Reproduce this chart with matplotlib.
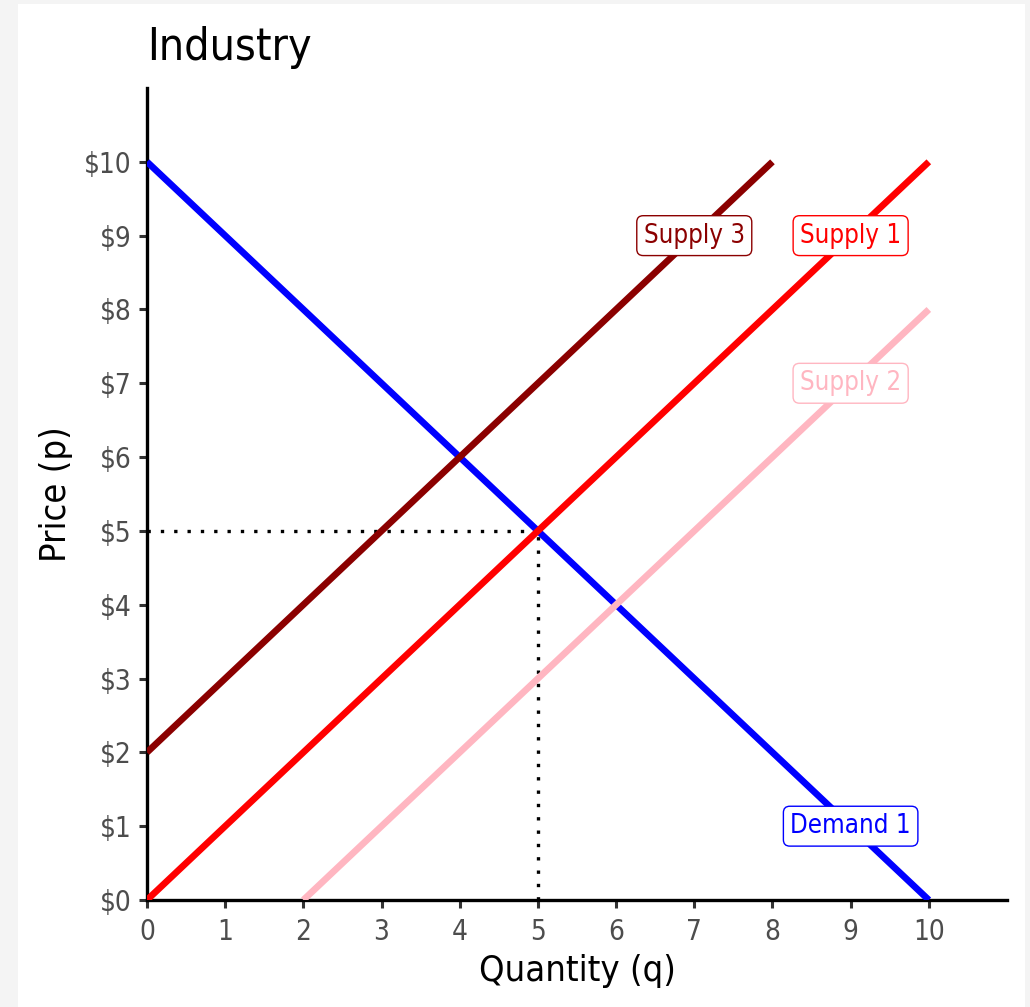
import numpy as np
import matplotlib
matplotlib.use("Agg")
import matplotlib.pyplot as plt
from matplotlib.patches import Rectangle

plt.rcParams['font.family'] = ['DejaVu Sans']
plt.rcParams['font.stretch'] = 'condensed'

# data
q_supply1 = [0, 10]
p_supply1 = [0, 10]
q_supply2 = [2, 10]
p_supply2 = [0, 8]
q_supply3 = [0, 8]
p_supply3 = [2, 10]
q_demand = [0, 10]
p_demand = [10, 0]
eq_q = 5
eq_p = 5

labels = ['Supply 3', 'Supply 1', 'Supply 2', 'Demand 1']
label_q = [7, 9, 9, 9]
label_p = [9, 9, 7, 1]
label_col = ['#8B0000', '#FF0000', '#FFB6C1', '#0000FF']

xticks = list(range(0, 11))
yticks = list(range(0, 11))
yticklabels = ['\\$' + str(v) for v in yticks]

fig = plt.figure(figsize=(10.30, 10.07), dpi=100)
fig.patch.set_facecolor('#f4f4f4')
fig.patches.append(Rectangle((18/1030, 0), (1025-18)/1030, (1003)/1007,
                             transform=fig.transFigure, facecolor='white',
                             edgecolor='none', zorder=-5))

ax = fig.add_axes([147/1030, 107/1007, 860/1030, 812/1007])
ax.set_facecolor('white')

lw = 4.8
ax.plot(q_demand, p_demand, color='#0000FF', lw=lw, solid_capstyle='butt', zorder=3)
ax.plot(q_supply2, p_supply2, color='#FFB6C1', lw=lw, solid_capstyle='butt', zorder=3)
ax.plot(q_supply1, p_supply1, color='#FF0000', lw=lw, solid_capstyle='butt', zorder=4)
ax.plot(q_supply3, p_supply3, color='#8B0000', lw=lw, solid_capstyle='butt', zorder=4)

ax.plot([0, eq_q], [eq_p, eq_p], color='black', lw=2.4, ls=(0, (1, 3)), zorder=2)
ax.plot([eq_q, eq_q], [0, eq_p], color='black', lw=2.4, ls=(0, (1, 3)), zorder=2)

for lab, x, y, c in zip(labels, label_q, label_p, label_col):
    ax.text(x, y, lab, color=c, fontsize=18.5, ha='center', va='center', zorder=6,
            bbox=dict(boxstyle='round,pad=0.27,rounding_size=0.25', facecolor='white',
                      edgecolor=c, linewidth=1))

ax.set_xlim(0, 11)
ax.set_ylim(0, 11)
ax.set_xticks(xticks)
ax.set_yticks(yticks)
ax.set_yticklabels(yticklabels)
ax.tick_params(axis='both', labelsize=20, colors='#333333', labelcolor='#4d4d4d',
               length=6, width=2.2)
ax.tick_params(axis='x', pad=7)
ax.tick_params(axis='y', pad=5)
for s in ['top', 'right']:
    ax.spines[s].set_visible(False)
for s in ['left', 'bottom']:
    ax.spines[s].set_linewidth(2.4)
    ax.spines[s].set_color('black')

ax.set_xlabel('Quantity (q)', fontsize=26, color='black', labelpad=6)
ax.set_ylabel('Price (p)', fontsize=26, color='black', labelpad=8)
ax.set_title('Industry', loc='left', fontsize=32, pad=20)

fig.savefig('out.png', dpi=100, facecolor=fig.get_facecolor())
